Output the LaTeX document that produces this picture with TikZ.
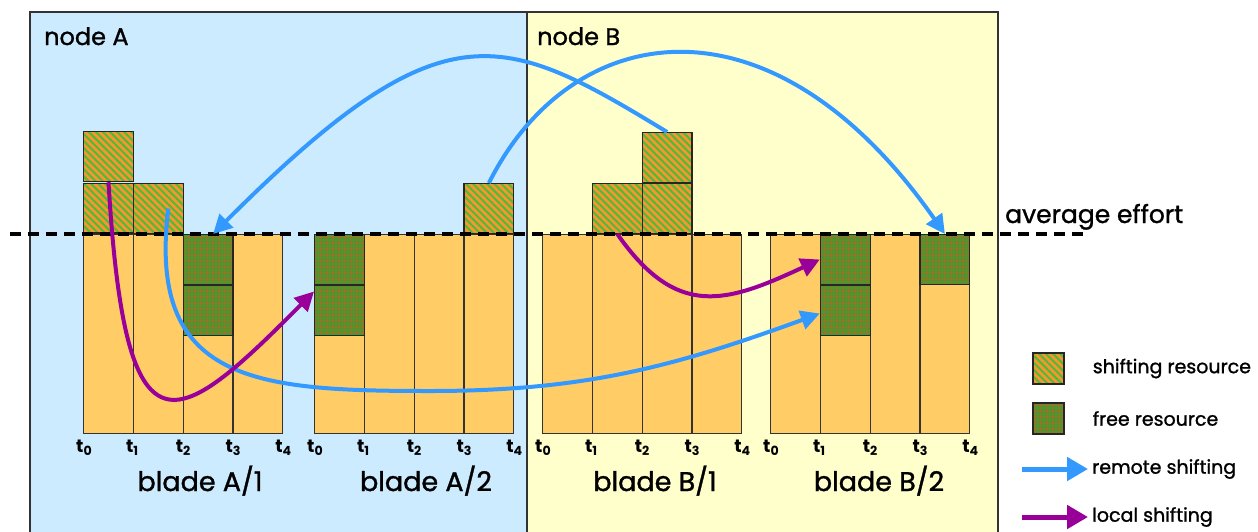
\documentclass[tikz,border=0pt]{standalone}
\usepackage{fontspec}
\setmainfont{Poppins}[UprightFeatures={FakeBold=1.2}]
\usetikzlibrary{positioning, arrows.meta, calc, patterns.meta}
\definecolor{panelA}{HTML}{CCEBFF}
\definecolor{panelB}{HTML}{FFFFCC}
\definecolor{barfill}{HTML}{FFCC66}
\definecolor{shiftorange}{HTML}{F7962E}
\definecolor{shiftgreen}{HTML}{4DBB3A}
\definecolor{freegreen}{HTML}{3F9A2F}
\definecolor{freedot}{HTML}{FF4A1A}
\definecolor{remoteblue}{HTML}{3399FF}
\definecolor{localpurple}{HTML}{990099}
\tikzset{
  column/.style={
    draw=black!80, line width=1.2pt, fill=barfill,
    minimum width=49.8pt, minimum height=199.2pt,
    inner sep=0pt, anchor=north west
  },
  cell/.style={draw=black!85, line width=1.2pt, minimum size=49.8pt, inner sep=0pt},
  shiftcell/.style={
    cell, preaction={fill=shiftorange},
    pattern={Lines[angle=-45,distance=5pt,line width=2pt]}, pattern color=shiftgreen
  },
  freecell/.style={
    cell, preaction={fill=freegreen},
    pattern={Dots[distance=3pt,radius=0.8pt]}, pattern color=freedot
  },
  remote/.style={-{Triangle[length=19pt,width=19pt]}, line width=4pt, remoteblue},
  local/.style={-{Triangle[length=19pt,width=19pt]}, line width=4pt, localpurple},
  legarrow/.style={-{Triangle[length=21pt,width=23pt]}, line width=5pt},
  panelline/.style={draw=black!80, line width=1.2pt},
  avgline/.style={line width=3.5pt, dash pattern=on 11pt off 7pt},
  tick/.style={font=\fontsize{18}{18}\selectfont\bfseries, anchor=base west, inner sep=0pt},
  bladelabel/.style={font=\fontsize{27}{27}\selectfont, anchor=base},
  panellabel/.style={font=\fontsize{24}{24}\selectfont, anchor=base west, inner sep=0pt},
  legtext/.style={font=\fontsize{19}{19}\selectfont, anchor=west, inner sep=4pt}
}

\begin{document}
\begin{tikzpicture}[x=1pt, y=-1pt]
  \useasboundingbox (0,0) rectangle (1258,531);
  \clip (0,0) rectangle (1258,531);

  % the two nodes
  \fill[panelA] (30,12) rectangle (527,545);
  \fill[panelB] (527,12) rectangle (998,545);
  \draw[panelline] (30,545) -- (30,12) -- (998,12) -- (998,545);
  \draw[panelline] (527,12) -- (527,545);
  \node[panellabel] (nodeA) at (44,45) {node A};
  \node[panellabel] (nodeB) at (537,45) {node B};

  % blades: columns and time ticks
  \foreach \bl/\bx in {a1/83, a2/314, b1/542, b2/770} {
    \foreach \c in {0,...,3}
      \node[column] (\bl-\c) at (\bx+49.8*\c, 234) {};
    \foreach \c in {0,...,4}
      \node[tick] (\bl-t\c) at (\bx+49.8*\c-7, 452) {t\textsubscript{\c}};
  }
  \node[bladelabel] (a1name) at (200,491) {blade A/1};
  \node[bladelabel] (a2name) at (426,491) {blade A/2};
  \node[bladelabel] (b1name) at (655,491) {blade B/1};
  \node[bladelabel] (b2name) at (879,491) {blade B/2};

  % blade A/1
  \node[shiftcell, above=0pt of a1-0] (a1s1) {};
  \node[shiftcell, above=0pt of a1s1] (a1s2) {};
  \node[shiftcell, above=0pt of a1-1] (a1s3) {};
  \node[freecell, below=0pt of a1-2.north] (a1f1) {};
  \node[freecell, below=0pt of a1f1] (a1f2) {};
  % blade A/2
  \node[freecell, below=0pt of a2-0.north] (a2f1) {};
  \node[freecell, below=0pt of a2f1] (a2f2) {};
  \node[shiftcell, above=0pt of a2-3] (a2s1) {};
  % blade B/1
  \node[shiftcell, above=0pt of b1-1] (b1s1) {};
  \node[shiftcell, above=0pt of b1-2] (b1s2) {};
  \node[shiftcell, above=0pt of b1s2] (b1s3) {};
  % blade B/2
  \node[freecell, below=0pt of b2-1.north] (b2f1) {};
  \node[freecell, below=0pt of b2f1] (b2f2) {};
  \node[freecell, below=0pt of b2-3.north] (b2f3) {};

  % average effort
  \draw[avgline] (10,234) -- (1088,234);
  \node[font=\fontsize{25}{25}\selectfont, anchor=base west, inner sep=0pt] (avgtext) at (1005,223) {average effort};

  % shifting
  \draw[remote] (a2s1.north) .. controls +(82,-164) and +(-174,-249) .. (b2f3.north);
  \draw[remote] (b1s3.north) .. controls +(-166,-101) and +(230,-230) .. ([xshift=5pt]a1f1.north);
  \coordinate (dip) at (430,391);
  \draw[remote] ([xshift=10pt]a1s3.center) to[out=-97,in=180,looseness=1.4] (dip)
    to[out=0,in=200] ([yshift=-3pt]b2f2.west);
  \draw[local] (a1s1.north) .. controls +(17,286) and +(-139,140) .. ([yshift=19pt]a2f2.west);
  \draw[local] (b1s1.south) to[out=-55,in=205,looseness=1.3] (b2f1.west);

  % legend
  \node[shiftcell, minimum size=31pt] (legshift) at (1048.5,368.5) {};
  \node[legtext, right=24pt of legshift] (legshifttext) {shifting resource};
  \node[freecell, minimum size=31pt] (legfree) at (1048.5,418.5) {};
  \node[legtext, right=24pt of legfree] (legfreetext) {free resource};
  \node[legtext] (legremotetext) at (1088,469) {remote shifting};
  \node[legtext] (leglocaltext) at (1088,517) {local shifting};
  \coordinate (legremote) at (1022,469);
  \coordinate (leglocal) at (1022,517);
  \draw[legarrow, remoteblue] (legremote) -- (legremotetext);
  \draw[legarrow, localpurple] (leglocal) -- (leglocaltext);
\end{tikzpicture}
\end{document}
